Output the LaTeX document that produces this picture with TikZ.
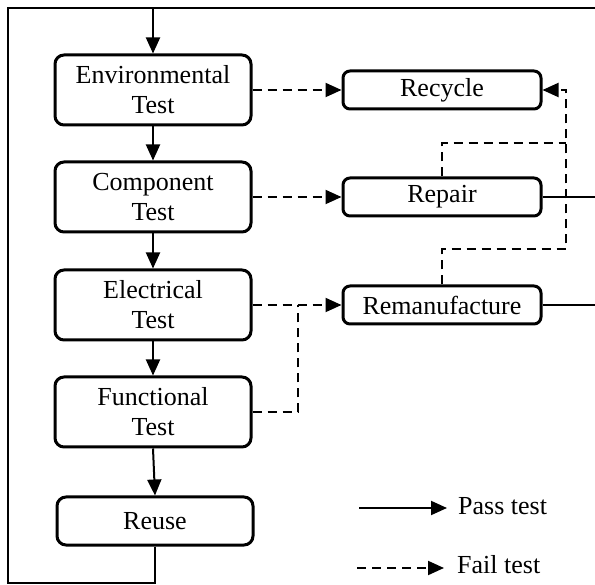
\documentclass[tikz,border=0pt]{standalone}
\usepackage{fontspec}
\setmainfont{Liberation Serif}
\usetikzlibrary{arrows.meta}

\begin{document}
\begin{tikzpicture}[x=1pt, y=-1pt,
    box/.style={draw, line width=3pt, rounded corners=9pt, align=center, inner sep=0pt,
        font=\fontsize{26}{30}\selectfont},
    testbox/.style={box, minimum width=196pt, minimum height=70pt},
    outbox/.style={box, minimum width=198pt, minimum height=38pt, rounded corners=7pt},
    wire/.style={line width=2pt},
    pass/.style={wire, -{Triangle[length=16pt,width=14pt]}},
    dashline/.style={wire, dash pattern=on 9pt off 6pt},
    fail/.style={dashline, -{Triangle[length=16pt,width=14pt]}},
    legend/.style={right, inner sep=0pt, font=\fontsize{26}{30}\selectfont}]
    \useasboundingbox (0,0) rectangle (595,585);

    %左侧的测试步骤
    \node[testbox] (env)  at (153,90)  {Environmental\\Test};
    \node[testbox] (comp) at (153,197) {Component\\Test};
    \node[testbox] (elec) at (153,305) {Electrical\\Test};
    \node[testbox] (func) at (153,412) {Functional\\Test};
    \node[box, minimum width=196pt, minimum height=48pt] (reuse) at (155,521) {Reuse};
    %右侧的处理方式
    \node[outbox] (recycle) at (442,90)  {Recycle};
    \node[outbox] (repair)  at (442,197) {Repair};
    \node[outbox] (reman)   at (442,305) {Remanufacture};

    %外框回路
    \coordinate (corner) at (8,8);
    \coordinate (topin)  at (153,8);
    \coordinate (topend) at (595,8);
    \draw[wire] (reuse.south) |- (8,583) -- (corner) -- (topend);
    \draw[pass] (topin) -- (env.north);

    %通过测试
    \draw[pass] (env) -- (comp);
    \draw[pass] (comp) -- (elec);
    \draw[pass] (elec) -- (func);
    \draw[pass] (func.south) -- (reuse.north);

    %未通过测试
    \draw[fail] (env) -- (recycle);
    \draw[fail] (comp) -- (repair);
    \draw[fail] (elec) -- (reman);
    \coordinate (join) at (298,305);
    \draw[dashline] (func.east) -| (join);

    %修复与再制造之后的回路
    \coordinate (riseA) at (566,143);
    \coordinate (riseB) at (566,249);
    \draw[dashline] (repair.north) |- (riseA);
    \draw[fail] (reman.north) |- (riseB) |- (recycle.east);
    \coordinate (repout) at (595,197);
    \coordinate (remout) at (595,305);
    \draw[wire] (repair.east) -- (repout);
    \draw[wire] (reman.east) -- (remout);

    %图例
    \coordinate (passA) at (359,508);
    \coordinate (passB) at (447,508);
    \coordinate (failA) at (357,568);
    \coordinate (failB) at (444,568);
    \draw[pass] (passA) -- (passB);
    \draw[fail] (failA) -- (failB);
    \node[legend] (passlabel) at (458,506) {Pass test};
    \node[legend] (faillabel) at (457,565) {Fail test};
\end{tikzpicture}
\end{document}
